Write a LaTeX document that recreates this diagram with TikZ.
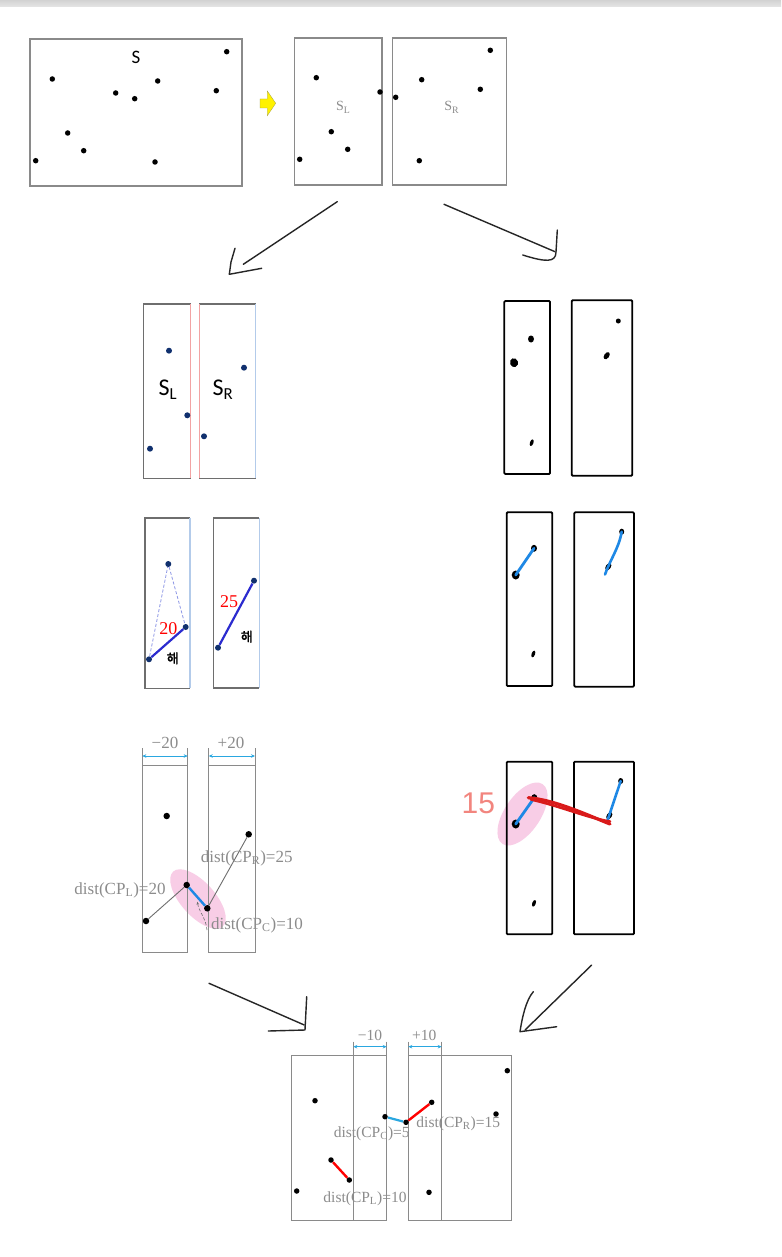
\documentclass[tikz,border=0pt]{standalone}
\usepackage{fontspec}
\setmainfont{Liberation Serif}
\newfontfamily\krfont[FakeBold=1.5]{Noto Sans CJK KR}
\newfontfamily\calfont{Carlito}
\newfontfamily\handfont{Liberation Sans}
\usetikzlibrary{arrows.meta,shapes.geometric}
\definecolor{boxgray}{HTML}{8A8A8A}
\definecolor{darkbox}{HTML}{6E6E6E}
\definecolor{lblgray}{HTML}{8C8C8C}
\definecolor{navydot}{HTML}{10306E}
\definecolor{royal}{HTML}{2B2BCF}
\definecolor{sky}{HTML}{2AA7E0}
\definecolor{hblue}{HTML}{1E88E5}
\definecolor{hred}{HTML}{D91A1A}
\definecolor{pinkblob}{HTML}{F8CDE6}
\definecolor{edgepink}{HTML}{F2A3A3}
\definecolor{edgeblue}{HTML}{B3CBEA}
\definecolor{salmon}{HTML}{F2857E}
\definecolor{dashblue}{HTML}{8C96E6}
\begin{document}
\begin{tikzpicture}[x=1pt,y=-1pt,
  dot/.style={circle,fill=black,inner sep=0pt,minimum size=5.5pt},
  ndot/.style={circle,fill=navydot,inner sep=0pt,minimum size=6pt},
  bdot/.style={circle,fill=black,inner sep=0pt,minimum size=6.5pt},
  hdot/.style={ellipse,fill=black,inner sep=0pt},
  thinbox/.style={draw=boxgray,line width=1.1pt},
  hbox/.style={draw=black,line width=1.8pt,rounded corners=1pt},
  dimarrow/.style={draw=sky,line width=0.8pt,{Stealth[length=4pt,width=3.5pt]}-{Stealth[length=4pt,width=3.5pt]}},
  glabel/.style={text=lblgray,font=\fontsize{17}{17}\selectfont,inner sep=0pt},
  slabel/.style={text=lblgray,font=\fontsize{15.5}{15.5}\selectfont,inner sep=0pt},
  handarrow/.style={draw=black!85,line width=1.4pt,line cap=round,line join=round},
  grayline/.style={draw=darkbox,line width=0.9pt},
]
\path[use as bounding box] (0,0) rectangle (781,1257);
\fill[white] (0,0) rectangle (781,1257);
\shade[top color=gray!35,bottom color=gray!20] (0,0) rectangle (781,7);

% ---------------- top row ----------------
\draw[thinbox] (30,39) rectangle (242,186);
\node[font=\calfont\fontsize{19}{19}\selectfont] (labS) at (136,57) {S};
\foreach \n/\x/\y in {a1/226.7/51.7,a2/52.3/79,a3/157.7/81,a4/115.7/93,a5/134.7/98.7,a6/216.3/90.7,a7/67.7/133,a8/83.7/150.7,a9/35.7/160.7,a10/155/162}
  \node[dot] (\n) at (\x,\y) {};

\draw[fill=yellow,draw=yellow!60!black,line width=0.3pt] (260,99) -- (267.3,99) -- (267.3,91) -- (275.7,103.3) -- (267.3,115.7) -- (267.3,108) -- (260,108) -- cycle;

\draw[thinbox] (294.3,38) rectangle (382,185);
\draw[thinbox] (392.3,38) rectangle (506.7,185);
\node[text=lblgray,font=\fontsize{14}{14}\selectfont] (labSL0) at (343.3,107.3) {S\textsubscript{L}};
\node[text=lblgray,font=\fontsize{14}{14}\selectfont] (labSR0) at (451.7,107.3) {S\textsubscript{R}};
\foreach \n/\x/\y in {b1/316.3/77.7,b2/380/92,b3/331.3/131.7,b4/347.7/149.3,b5/299.7/159.3,b6/490.3/50.3,b7/421.7/79.7,b8/480.3/89.3,b9/395.7/97.3,b10/419.3/160.7}
  \node[dot] (\n) at (\x,\y) {};

% hand-drawn split arrows
\coordinate (h1s) at (337.3,201.7); \coordinate (h1e) at (243.3,264.3);
\draw[handarrow] (h1s) -- (h1e);
\draw[handarrow] (235,248.3) -- (231,262) -- (229.3,274.3) -- (261.7,268.3);
\coordinate (h2s) at (444,204.3); \coordinate (h2e) at (555,251.7);
\draw[handarrow] (h2s) -- (h2e);
\draw[handarrow] (557.3,230) -- (556,252) .. controls (556,263) and (545,262) .. (522.7,255);

% ---------------- left column panel 1 ----------------
\draw[draw=darkbox,line width=1.4pt] (190.7,304) -- (143.3,304) -- (143.3,478.3) -- (190.7,478.3);
\draw[draw=edgepink,line width=1.2pt] (190.7,304) -- (190.7,478.3);
\draw[draw=darkbox,line width=1.4pt] (199.3,304) -- (255.7,304);
\draw[draw=darkbox,line width=1.4pt] (199.3,478.3) -- (255.7,478.3);
\draw[draw=edgepink,line width=1.2pt] (199.3,304) -- (199.3,478.3);
\draw[draw=edgeblue,line width=1.2pt] (255.7,304) -- (255.7,478.3);
\node[font=\calfont\fontsize{24}{24}\selectfont] (labSL1) at (168,390) {S\textsubscript{L}};
\node[font=\calfont\fontsize{24}{24}\selectfont] (labSR1) at (223,390) {S\textsubscript{R}};
\foreach \n/\x/\y in {c1/169/350.7,c2/187.3/415.3,c3/150/448.7,c4/244/367.7,c5/204/436.3}
  \node[ndot] (\n) at (\x,\y) {};

% ---------------- left column panel 2 ----------------
\draw[draw=darkbox,line width=1.6pt] (190,517.7) -- (145,517.7) -- (145,688.3) -- (190,688.3);
\draw[draw=edgeblue,line width=1.1pt] (190,517.7) -- (190,688.3);
\draw[draw=darkbox,line width=1.6pt] (259.3,518) -- (213.3,518) -- (213.3,688) -- (259.3,688);
\draw[draw=edgeblue,line width=1.1pt] (259.3,518) -- (259.3,688);
\foreach \n/\x/\y in {d1/168.3/564,d2/185.7/627,d3/149/659.3,d4/254/580.7,d5/218/647.7}
  \node[ndot] (\n) at (\x,\y) {};
\draw[dashblue,densely dashed,line width=0.8pt] (d3) -- (d1) -- (d2);
\draw[royal,line width=2.2pt] (d3) -- (d2);
\draw[royal,line width=2.2pt] (d5) -- (d4);
\node[text=red,font=\fontsize{18}{18}\selectfont] (l20) at (168.3,629) {20};
\node[text=red,font=\fontsize{18}{18}\selectfont] (l25) at (229,601.7) {25};
\node[font=\krfont\fontsize{13}{13}\selectfont] (k1) at (172.7,658.3) {해};
\node[font=\krfont\fontsize{13}{13}\selectfont] (k2) at (246.7,636.7) {해};

% ---------------- left column panel 3 ----------------
\fill[pinkblob,rotate around={-48:(198,899)}] (198,899) ellipse [x radius=37pt,y radius=17pt];
\draw[thinbox,line width=1pt] (142.3,765) rectangle (187.7,952.7);
\draw[thinbox,line width=1pt] (208.7,765) rectangle (255,952.7);
\foreach \x in {142.3,187.7,208.7,255} \draw[thinbox,line width=1pt] (\x,748.3) -- (\x,765);
\coordinate (dl1) at (142.3,756); \coordinate (dl2) at (187.7,756);
\coordinate (dr1) at (208.7,756); \coordinate (dr2) at (255,756);
\draw[dimarrow] (dl1) -- (dl2);
\draw[dimarrow] (dr1) -- (dr2);
\node[text=lblgray,font=\fontsize{17}{17}\selectfont] (m20) at (165,743.3) {−20};
\node[text=lblgray,font=\fontsize{17}{17}\selectfont] (p20) at (231,743.3) {+20};
\foreach \n/\x/\y in {e1/166.7/816,e2/248.7/834.3,e3/186.7/885,e4/207.3/908.3,e5/146/921}
  \node[bdot] (\n) at (\x,\y) {};
\draw[grayline] (e5) -- (e3);
\draw[grayline] (e4) -- (e2);
\draw[hblue,line width=2.4pt] (e3) -- (e4);
\coordinate (cs) at (207,930); \coordinate (ce) at (197.3,901.7);
\draw[darkbox,densely dashed,line width=0.6pt,-{Stealth[length=3pt,width=2.5pt]}] (cs) .. controls (206,918) and (199,912) .. (ce);
\node[glabel] (dl) at (120,890) {dist(CP\textsubscript{L})=20};
\node[glabel] (dr) at (246.7,858.3) {dist(CP\textsubscript{R})=25};
\node[glabel] (dc) at (257,925) {dist(CP\textsubscript{C})=10};

% ---------------- right column (hand drawn) ----------------
\draw[hbox] (504.3,301) rectangle (550,474);
\draw[hbox] (571.7,300.3) rectangle (632.3,475.7);
\node[hdot,minimum width=6pt,minimum height=7pt] (f1) at (531,339) {};
\node[hdot,minimum width=8pt,minimum height=9pt,rotate=20] (f2) at (514,362.7) {};
\node[hdot,minimum width=3.5pt,minimum height=7pt,rotate=-20] (f3) at (531.7,442.7) {};
\node[hdot,minimum width=5pt,minimum height=5pt] (f4) at (618.3,321) {};
\node[hdot,minimum width=5pt,minimum height=8pt,rotate=-35] (f5) at (606.7,355.7) {};

\draw[hbox] (506.7,512.3) rectangle (552.3,686);
\draw[hbox] (574.3,512.3) rectangle (634,686.7);
\node[hdot,minimum width=6pt,minimum height=7pt] (g1) at (534,548.3) {};
\node[hdot,minimum width=8pt,minimum height=9pt] (g2) at (515.7,575) {};
\node[hdot,minimum width=3.5pt,minimum height=7pt,rotate=-20] (g3) at (533.3,654) {};
\node[hdot,minimum width=5pt,minimum height=6pt] (g4) at (621.7,531.7) {};
\node[hdot,minimum width=5pt,minimum height=8pt,rotate=-35] (g5) at (608.3,566.7) {};
\coordinate (g5e) at (605,574.5);
\draw[hblue,line width=2.8pt,line cap=round] (g1.center) -- (g2.center);
\draw[hblue,line width=2.6pt,line cap=round] (g4.center) .. controls (619,548) and (610,560) .. (g5e);

\fill[pinkblob,rotate around={56:(522.5,814)}] (522.5,814) ellipse [x radius=36pt,y radius=18pt];
\draw[hbox] (506.7,761.7) rectangle (552.3,934.3);
\draw[hbox] (574,761.7) rectangle (634,934.3);
\node[hdot,minimum width=6pt,minimum height=7pt] (k1d) at (534.3,797.7) {};
\node[hdot,minimum width=8pt,minimum height=9pt] (k2d) at (515.7,824) {};
\node[hdot,minimum width=3.5pt,minimum height=7pt,rotate=-20] (k3d) at (534,903.3) {};
\node[hdot,minimum width=5pt,minimum height=6pt] (k4d) at (620.7,781) {};
\node[hdot,minimum width=5pt,minimum height=8pt,rotate=-35] (k5d) at (609.3,815.7) {};
\coordinate (k5e) at (607,822);
\draw[hblue,line width=2.8pt,line cap=round] (k1d.center) -- (k2d.center);
\draw[hblue,line width=2.6pt,line cap=round] (k4d.center) -- (k5e);
\coordinate (rs) at (528.3,797.7); \coordinate (re) at (610,824);
\draw[hred,line width=3.2pt,line cap=round] (rs) .. controls (555,800) and (585,814) .. (re);
\draw[hred,line width=2.6pt,line cap=round] (531,799.5) .. controls (560,806) and (588,818) .. (610,821.5);
\node[text=salmon,font=\handfont\fontsize{30}{30}\selectfont] (n15) at (478.3,803.3) {15};

% arrows to bottom
\coordinate (h3s) at (209,983.3); \coordinate (h3e) at (304.3,1025);
\draw[handarrow] (h3s) -- (h3e);
\draw[handarrow] (306.7,996.7) -- (305,1030) -- (268.3,1031);
\coordinate (h4s) at (591.7,965); \coordinate (h4e) at (525,1030);
\draw[handarrow] (h4s) -- (h4e);
\draw[handarrow] (533.3,991.7) .. controls (526,1000) and (522,1018) .. (520,1031.7) -- (556.7,1026.7);

% ---------------- bottom panel ----------------
\draw[thinbox,line width=1pt] (291.7,1055) rectangle (386.7,1220);
\draw[thinbox,line width=1pt] (408.3,1055) rectangle (511.7,1220);
\draw[thinbox,line width=1pt] (353.3,1041.7) -- (353.3,1220);
\draw[thinbox,line width=1pt] (441.7,1041.7) -- (441.7,1220);
\draw[thinbox,line width=1pt] (386.7,1041.7) -- (386.7,1055);
\draw[thinbox,line width=1pt] (408.3,1041.7) -- (408.3,1055);
\coordinate (bl1) at (353.3,1046.7); \coordinate (bl2) at (386.7,1046.7);
\coordinate (br1) at (408.3,1046.7); \coordinate (br2) at (441.7,1046.7);
\draw[dimarrow] (bl1) -- (bl2);
\draw[dimarrow] (br1) -- (br2);
\node[text=lblgray,font=\fontsize{15.5}{15.5}\selectfont] (m10) at (370,1035) {−10};
\node[text=lblgray,font=\fontsize{15.5}{15.5}\selectfont] (p10) at (424.3,1035) {+10};
\foreach \n/\x/\y in {q1/315/1100.7,q2/385/1116.7,q3/406/1122.3,q4/431.7/1102.3,q5/507.3/1070.7,q6/496/1114,q7/331/1160,q8/349.3/1180,q9/296.7/1191,q10/429/1192.3}
  \node[dot,minimum size=5.5pt] (\n) at (\x,\y) {};
\draw[sky,line width=2.2pt] (q2) -- (q3);
\draw[red,line width=2.4pt] (q3) -- (q4);
\draw[red,line width=2.4pt] (q7) -- (q8);
\node[slabel] (bc) at (371.7,1133.3) {dist(CP\textsubscript{C})=5};
\node[slabel] (br) at (458.3,1124) {dist(CP\textsubscript{R})=15};
\node[slabel] (bl) at (365,1198.3) {dist(CP\textsubscript{L})=10};
\end{tikzpicture}
\end{document}
